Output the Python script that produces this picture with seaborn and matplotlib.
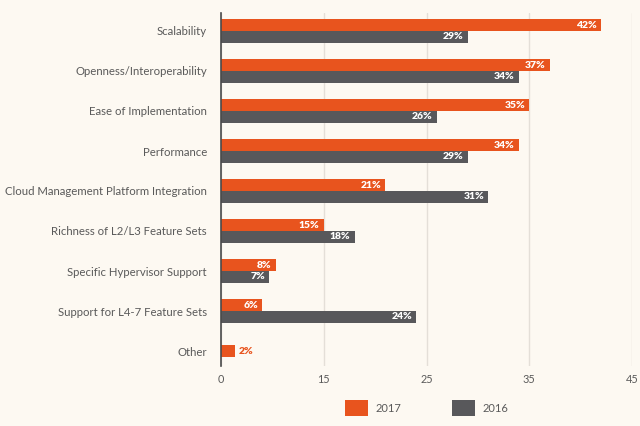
import numpy as np
import pandas as pd
import matplotlib
matplotlib.use("Agg")
import matplotlib.pyplot as plt
import seaborn as sns

# Data
categories = [
    "Scalability",
    "Openness/Interoperability",
    "Ease of Implementation",
    "Performance",
    "Cloud Management Platform Integration",
    "Richness of L2/L3 Feature Sets",
    "Specific Hypervisor Support",
    "Support for L4-7 Feature Sets",
    "Other",
]
values_2017 = [42, 37, 35, 34, 21, 15, 8, 6, 2]
values_2016 = [29, 34, 26, 29, 31, 18, 7, 24, np.nan]
years = ["2017", "2016"]
tick_values = [0, 15, 25, 35, 45]

ORANGE = "#E8541E"
GREY = "#58585B"
BG = "#FDF9F2"
TEXT = "#5A5A5A"

sns.set_style("white")
plt.rcParams["font.family"] = ["Lato", "DejaVu Sans"]

df = pd.DataFrame({
    "category": categories * 2,
    "year": [years[0]] * len(categories) + [years[1]] * len(categories),
    "value": values_2017 + values_2016,
}).dropna()

fig = plt.figure(figsize=(6.4, 4.26), dpi=100, facecolor=BG)
ax = fig.add_axes([221 / 640, 1 - 366 / 426, 411 / 640, 353 / 426])
ax.set_facecolor(BG)

sns.barplot(
    data=df, x="value", y="category", hue="year",
    order=categories, hue_order=years,
    palette=[ORANGE, GREY], width=0.58, dodge=True,
    saturation=1, linewidth=0, ax=ax, legend=True,
)

# tick labels 0/15/25/35/45 are evenly spaced in the original
scale_x = [-45, 0, 15, 25, 35, 45, 100]
scale_u = [-3, 0, 1, 2, 3, 4, 9.5]


def fwd(x):
    return np.interp(x, scale_x, scale_u)


def inv(u):
    return np.interp(u, scale_u, scale_x)


ax.set_xscale("function", functions=(fwd, inv))
ax.set_xlim(0, 45)
ax.set_ylim(len(categories) - 1 + 0.375, -0.45)
ax.set_xticks(tick_values)
ax.set_xticklabels([str(t) for t in tick_values])

# the lone "Other" bar sits centred on its row
other_bar = ax.containers[0].patches[-1]
other_bar.set_y(len(categories) - 1 - other_bar.get_height() / 2)

# value labels
for container, vals in zip(ax.containers, [values_2017, values_2016]):
    vals = [v for v in vals if not np.isnan(v)]
    labels = ax.bar_label(container, labels=[f"{int(v)}%" for v in vals],
                          padding=-3, color="white", fontsize=7.5,
                          fontweight="heavy")
    for lab in labels:
        lab.set_ha("right")
last = ax.texts[len(values_2017) - 1]
last.set_ha("left")
last.set_color(ORANGE)
last.xyann = (3, last.xyann[1])

ax.grid(axis="x", color="#E4DFD8", linewidth=1)
ax.grid(axis="y", visible=False)
ax.set_axisbelow(True)
for side in ["top", "right", "bottom"]:
    ax.spines[side].set_visible(False)
ax.spines["left"].set_color("#4A4A4A")
ax.spines["left"].set_linewidth(1.2)
ax.tick_params(axis="both", length=0, colors=TEXT)
ax.tick_params(axis="y", pad=10, labelsize=8.2)
ax.tick_params(axis="x", pad=6, labelsize=7.8)
ax.set_xlabel("")
ax.set_ylabel("")

leg = ax.legend(
    loc="center", bbox_to_anchor=(0.5, -0.12), ncol=2, frameon=False,
    handlelength=2.1, handleheight=1.8, handletextpad=0.6,
    columnspacing=4.6, fontsize=8,
)
for t in leg.get_texts():
    t.set_color(TEXT)

fig.savefig("out.png", dpi=100, facecolor=BG)
